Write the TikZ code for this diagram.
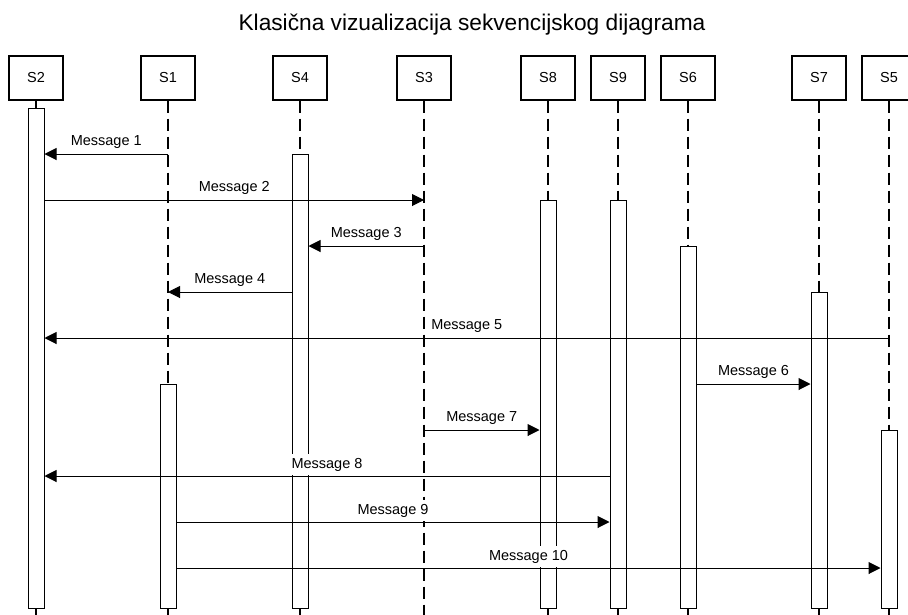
\documentclass[tikz,border=0pt]{standalone}
\usepackage{fontspec}
\setmainfont{Liberation Sans}
\usetikzlibrary{arrows.meta}

\begin{document}
\begin{tikzpicture}[x=1pt, y=-1pt,
    head/.style={draw, line width=2pt, minimum width=54pt, minimum height=44pt, inner sep=0pt, font=\fontsize{14.5}{16}\selectfont},
    life/.style={line width=1.3pt, dash pattern=on 12pt off 6pt},
    act/.style={draw, fill=white, line width=1pt, minimum width=16pt, inner sep=0pt, anchor=north},
    msg/.style={line width=1pt, -{Triangle[length=12pt, width=12pt]}},
    lbl/.style={midway, anchor=south, yshift=0.5pt, fill=white, inner xsep=1pt, inner ysep=4pt, font=\fontsize{14.5}{16}\selectfont}]
    \useasboundingbox (0,0) rectangle (908,614);

    % Title
    \node[font=\fontsize{22.7}{26}\selectfont, anchor=base] (title) at (472,30) {Klasična vizualizacija sekvencijskog dijagrama};

    % Participants
    \foreach \n/\x in {2/36, 1/168, 4/300, 3/424, 8/548, 9/618, 6/688, 7/819, 5/889}
        \node[head] (s\n) at (\x,77.5) {S\n};

    % Lifelines
    \foreach \n in {1,...,9}
        \draw[life] (s\n.south) -- ++(0,520);

    % Rows of the messages
    \foreach \i in {0,...,10}
        \coordinate (r\i) at (0,{108+46*\i});

    % Activation bars
    \node[act, minimum height=500pt] (a2) at (s2 |- r0) {};
    \node[act, minimum height=454pt] (a4) at (s4 |- r1) {};
    \node[act, minimum height=408pt] (a8) at (s8 |- r2) {};
    \node[act, minimum height=408pt] (a9) at (s9 |- r2) {};
    \node[act, minimum height=362pt] (a6) at (s6 |- r3) {};
    \node[act, minimum height=316pt] (a7) at (s7 |- r4) {};
    \node[act, minimum height=224pt] (a1) at (s1 |- r6) {};
    \node[act, minimum height=178pt] (a5) at (s5 |- r7) {};

    % Messages
    \draw[msg] (s1 |- r1) -- node[lbl] {Message 1} (a2.east |- r1);
    \draw[msg] (a2.east |- r2) -- node[lbl] {Message 2} (s3 |- r2);
    \draw[msg] (s3 |- r3) -- node[lbl] {Message 3} (a4.east |- r3);
    \draw[msg] (a4.west |- r4) -- node[lbl] {Message 4} (s1 |- r4);
    \draw[msg] (s5 |- r5) -- node[lbl] {Message 5} (a2.east |- r5);
    \draw[msg] (a6.east |- r6) -- node[lbl] {Message 6} (a7.west |- r6);
    \draw[msg] (s3 |- r7) -- node[lbl] {Message 7} (a8.west |- r7);
    \draw[msg] (a9.west |- r8) -- node[lbl] {Message 8} (a2.east |- r8);
    \draw[msg] (a1.east |- r9) -- node[lbl] {Message 9} (a9.west |- r9);
    \draw[msg] (a1.east |- r10) -- node[lbl] {Message 10} (a5.west |- r10);

\end{tikzpicture}
\end{document}
